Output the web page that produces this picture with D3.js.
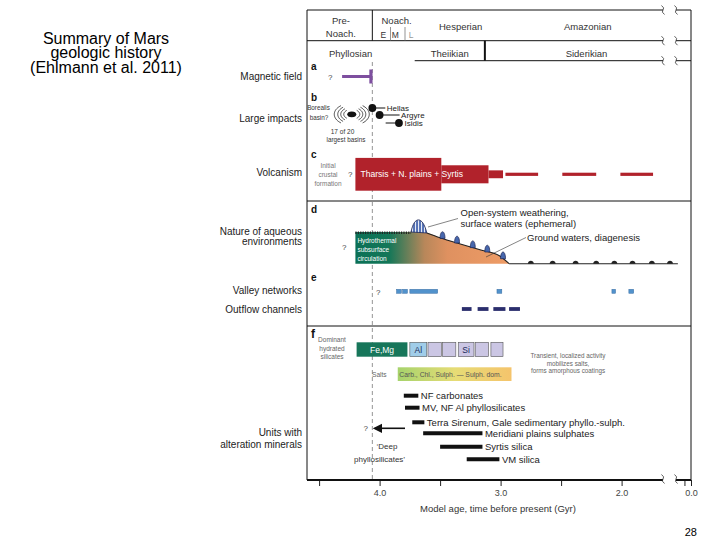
<!DOCTYPE html>
<html>
<head>
<meta charset="utf-8">
<script src="https://cdn.jsdelivr.net/npm/d3@7"></script>
<style>
  body { margin: 0; background: #fff; }
  svg { display: block; font-family: "Liberation Sans", Arial, sans-serif; }
</style>
</head>
<body>
<svg id="chart" width="720" height="540"></svg>
<script>
// ---- data (ages in Gyr before present) ----
const axisTicks = [4.5, 4.0, 3.5, 3.0, 2.5, 2.0, 0.5, 0.0];
const axisTickLabels = ['', '4.0', '', '3.0', '', '2.0', '', '0.0'];

const periodNames = ['Pre-|Noach.', 'Noach.', 'Hesperian', 'Amazonian'];
const periodCenters = [4.32, 3.86, 3.33, 2.28];
const noachSubNames = ['E', 'M', 'L'];
const noachSubCenters = [3.97, 3.87, 3.74];
const noachSubBounds = [3.91, 3.79];
const eonNames = ['Phyllosian', 'Theiikian', 'Siderikian'];
const eonCenters = [4.24, 3.42, 2.29];
const eonBounds = [3.71, 3.13];
const boundaryAge = 4.06;

const magneticField = [4.31, 4.06];

const impactNames = ['Hellas', 'Argyre', 'Isidis'];
const impactAges = [4.06, 4.0, 3.84];
const borealisAge = 4.23;

const volcanismSteps = [[4.2, 3.49], [3.49, 3.1], [3.1, 2.98]];
const volcanismLevels = [1.0, 0.55, 0.24];
const volcanismDashes = [[2.96, 2.69], [2.49, 2.21], [2.01, 1.74]];

const aqueousAges = [4.2, 3.74, 3.61, 3.5, 3.34, 3.17, 3.01, 2.93];
const aqueousLevels = [1.0, 1.0, 0.97, 0.82, 0.63, 0.44, 0.25, 0.0];
const weatheringSpan = [3.74, 3.61];
const weatheringPeak = 1.42;
const surfaceHumps = [3.48, 3.36, 3.23, 3.11, 2.98];
const groundHumps = [2.75, 2.57, 2.38, 2.21, 2.06, 1.91, 1.75, 1.6];
const groundEnd = 1.0;

const valleyNetworks = [[3.86, 3.82], [3.81, 3.77], [3.75, 3.52], [3.03, 2.99], [2.08, 2.05], [1.94, 1.9]];
const outflowChannels = [[3.32, 3.24], [3.19, 3.1], [3.06, 2.96], [2.93, 2.84]];

const silicateNames = ['Fe,Mg', 'Al', '', '', 'Si', '', ''];
const silicateSpans = [[4.19, 3.77], [3.75, 3.61], [3.6, 3.49], [3.48, 3.37], [3.35, 3.22], [3.21, 3.1], [3.08, 2.98]];
const saltsSpan = [3.85, 2.91];

const unitNames = ['NF carbonates', 'MV, NF Al phyllosilicates',
  'Terra Sirenum, Gale sedimentary phyllo.-sulph.', 'Meridiani plains sulphates',
  'Syrtis silica', 'VM silica'];
const unitSpans = [[3.8, 3.68], [3.79, 3.67], [3.73, 3.63], [3.64, 3.15], [3.5, 3.15], [3.28, 3.01]];
const deepPhyllo = [3.79, 4.04];

// ---- drawing ----
const svg = d3.select('#chart');
const yTop = 10, yBottom = 480;

const x = d3.scaleLinear().domain([4.6, 1.6, 0]).range([307, 670, 691]);
const xL = x(4.6), xR = x(0);
const brk1 = 663, brk2 = 676;

const txt = (s, px, py, size, opts = {}) => svg.append('text')
  .attr('x', px).attr('y', py)
  .attr('font-size', size)
  .attr('fill', opts.fill || '#222')
  .attr('font-weight', opts.weight || 'normal')
  .attr('text-anchor', opts.anchor || 'start')
  .text(s);

// title + page number
['Summary of Mars', 'geologic history', '(Ehlmann et al. 2011)'].forEach((s, i) =>
  txt(s, 106, 43.5 + i * 14.5, 16, { anchor: 'middle', fill: '#000' }));
txt('28', 697, 536, 11, { anchor: 'end', fill: '#000' });

// frame
const line = (x1, y1, x2, y2, w = 1, c = '#111') => svg.append('line')
  .attr('x1', x1).attr('y1', y1).attr('x2', x2).attr('y2', y2)
  .attr('stroke', c).attr('stroke-width', w);

const breakMark = (yy) => {
  [brk1, brk2].forEach(bx => svg.append('path')
    .attr('d', `M${bx - 1.5},${yy - 4.5} Q${bx + 2},${yy - 2} ${bx},${yy} Q${bx - 2},${yy + 2} ${bx + 1.5},${yy + 4.5}`)
    .attr('fill', 'none').attr('stroke', '#333').attr('stroke-width', 0.8));
};

[yTop, 40.7].forEach(yy => {
  line(xL, yy, brk1, yy);
  line(brk2, yy, xR, yy);
  breakMark(yy);
});
line(x(eonBounds[0]), 60.7, brk1, 60.7);
line(brk2, 60.7, xR, 60.7);
breakMark(60.7);
line(xL, yTop, xL, yBottom);
line(xR, yTop, xR, yBottom);
line(xL, 201, xR, 201);
line(xL, 326, xR, 326);

// header
line(x(boundaryAge), yTop, x(boundaryAge), 40.7);
noachSubBounds.forEach(a => line(x(a), 27, x(a), 40.7, 0.7, '#666'));
line(x(eonBounds[1]), 40.7, x(eonBounds[1]), 60.7, 2);
periodNames.forEach((n, i) => {
  const parts = n.split('|');
  if (parts.length === 2) {
    txt(parts[0], x(periodCenters[i]), 23.5, 9.5, { anchor: 'middle', fill: '#333' });
    txt(parts[1], x(periodCenters[i]), 37, 9.5, { anchor: 'middle', fill: '#333' });
  } else {
    txt(n, x(periodCenters[i]), i === 1 ? 24 : 30, 9.5, { anchor: 'middle', fill: '#333' });
  }
});
noachSubNames.forEach((n, i) => txt(n, x(noachSubCenters[i]), 37.5, 8.5,
  { anchor: 'middle', fill: i === 2 ? '#999' : '#333' }));
eonNames.forEach((n, i) => txt(n, x(eonCenters[i]), 57, 9.5, { anchor: 'middle', fill: '#333' }));

// dashed boundary line
line(x(boundaryAge), 62, x(boundaryAge), yBottom, 0.8, '#777').attr('stroke-dasharray', '4,3');

// row labels
const rowLabels = [['Magnetic field', 80], ['Large impacts', 121.5], ['Volcanism', 176],
  ['Nature of aqueous', 235], ['environments', 245], ['Valley networks', 294],
  ['Outflow channels', 312.5], ['Units with', 435.5], ['alteration minerals', 448]];
rowLabels.forEach(([s, yy]) => txt(s, 302, yy, 10, { anchor: 'end' }));

// panel letters
[['a', 70], ['b', 101], ['c', 158], ['d', 213], ['e', 281], ['f', 338]].forEach(([s, yy]) =>
  txt(s, 311, yy, s === 'f' ? 12 : 10, { weight: 'bold', fill: '#111' }));

// a: magnetic field
const purple = '#7e4f9f';
line(x(magneticField[0]), 76.5, x(magneticField[1]) - 1, 76.5, 3, purple);
svg.append('rect').attr('x', x(magneticField[1]) - 3).attr('y', 69.5)
  .attr('width', 3.2).attr('height', 14).attr('fill', purple);
txt('?', 328, 79.5, 8, { fill: '#444' });

// b: large impacts
const bx = x(borealisAge), by = 114.3;
svg.append('ellipse').attr('cx', bx).attr('cy', by).attr('rx', 4.5).attr('ry', 2.9).attr('fill', '#111');
const ellArc = (rx, ry, a0, a1) => {
  const pts = d3.range(a0, a1 + 0.01, (a1 - a0) / 20)
    .map(t => [bx + rx * Math.cos(t), by + ry * Math.sin(t)]);
  return d3.line()(pts);
};
[[8, 5], [11, 7], [14, 9], [17.5, 11]].forEach(([rx, ry]) => {
  svg.append('path').attr('d', ellArc(rx, ry, -0.9, 0.9)).attr('fill', 'none').attr('stroke', '#222').attr('stroke-width', 0.8);
  svg.append('path').attr('d', ellArc(rx, ry, Math.PI - 0.9, Math.PI + 0.9)).attr('fill', 'none').attr('stroke', '#222').attr('stroke-width', 0.8);
});
txt('Borealis', 318.5, 110, 6.3, { anchor: 'middle', fill: '#333' });
txt('basin?', 319, 119.5, 6.3, { anchor: 'middle', fill: '#333' });
txt('17 of 20', 342.5, 133.5, 6.5, { anchor: 'middle', fill: '#333' });
txt('largest basins', 346, 142, 6.3, { anchor: 'middle', fill: '#333' });

const impactRows = [108, 115, 123];
impactAges.forEach((a, i) => {
  const cx = x(a), cy = impactRows[i];
  if (i === 2) {
    line(x(3.95), cy, cx, cy, 1);
    txt(impactNames[i], cx + 5.5, cy + 3, 8, { fill: '#222' });
  } else {
    const end = i === 0 ? cx + 13 : cx + 20;
    line(cx, cy, end, cy, 1);
    txt(impactNames[i], end + 1.5, cy + 2.8, 8, { fill: '#222' });
  }
  svg.append('circle').attr('cx', cx).attr('cy', cy).attr('r', 3.9).attr('fill', '#111');
});

// c: volcanism
const red = '#b1222b';
const vy = 174.3;
const vHalf = d3.scaleLinear().domain([0, 1]).range([0, 16.4]);
volcanismSteps.forEach(([a0, a1], i) => {
  svg.append('rect').attr('x', x(a0)).attr('y', vy - vHalf(volcanismLevels[i]))
    .attr('width', x(a1) - x(a0)).attr('height', 2 * vHalf(volcanismLevels[i])).attr('fill', red);
});
volcanismDashes.forEach(([a0, a1]) => {
  svg.append('rect').attr('x', x(a0)).attr('y', vy - 1.6)
    .attr('width', x(a1) - x(a0)).attr('height', 3.2).attr('fill', red);
});
txt('Tharsis + N. plains + Syrtis', x(volcanismSteps[0][0]) + 5, 177, 8.6, { fill: '#fff' });
[['Initial', 168], ['crustal', 177], ['formation', 185.5]].forEach(([s, yy]) =>
  txt(s, 328, yy, 6.5, { anchor: 'middle', fill: '#777' }));
txt('?', 348, 177, 8, { fill: '#444' });

// d: aqueous environments
const defs = svg.append('defs');
const grad = defs.append('linearGradient').attr('id', 'aqGrad')
  .attr('gradientUnits', 'userSpaceOnUse')
  .attr('x1', x(4.2)).attr('x2', x(2.93)).attr('y1', 0).attr('y2', 0);
[[0, '#0b7056'], [0.22, '#147758'], [0.45, '#b8875a'], [0.6, '#df9160'], [1, '#ee9c66']]
  .forEach(([o, c]) => grad.append('stop').attr('offset', o).attr('stop-color', c));

const aqBase = 263.7;
const yAq = d3.scaleLinear().domain([0, 1]).range([aqBase, 232]);
const aqPts = aqueousAges.map((a, i) => [a, aqueousLevels[i]]);
svg.append('path').datum(aqPts)
  .attr('d', d3.area().x(d => x(d[0])).y0(aqBase).y1(d => yAq(d[1])).curve(d3.curveMonotoneX))
  .attr('fill', 'url(#aqGrad)');
svg.append('path').datum(aqPts.slice(2))
  .attr('d', d3.line().x(d => x(d[0])).y(d => yAq(d[1])).curve(d3.curveMonotoneX))
  .attr('fill', 'none').attr('stroke', '#222').attr('stroke-width', 1.1);
line(x(aqueousAges[aqueousAges.length - 1]), aqBase, x(groundEnd), aqBase, 1.1, '#222');
// hatched top of the hydrothermal block
line(x(aqueousAges[0]), yAq(1) + 0.8, x(aqueousAges[1]), yAq(1) + 0.8, 2.4, '#222')
  .attr('stroke-dasharray', '1.2,1.2');

const levelAt = d3.scaleLinear().domain(aqueousAges).range(aqueousLevels).clamp(true);
const hump = (cx, base, w, h) =>
  `M${cx - w},${base} C${cx - w},${base - h} ${cx + w},${base - h} ${cx + w},${base} Z`;
surfaceHumps.forEach(a => {
  const base = yAq(levelAt(a));
  svg.append('path').attr('d', hump(x(a), base, 2.5, 9))
    .attr('fill', '#4767ad').attr('stroke', '#1b2250').attr('stroke-width', 0.7);
});
groundHumps.forEach(a => {
  svg.append('path').attr('d', hump(x(a), aqBase, 3, 4)).attr('fill', '#222');
});
// open-system weathering peak with stripes
const w0 = x(weatheringSpan[0]), w1 = x(weatheringSpan[1]);
const peakPath = `M${w0},${yAq(1)} C${w0 + 3},${yAq(weatheringPeak) - 3} ${w1 - 4},${yAq(weatheringPeak) - 3} ${w1},${yAq(levelAt(weatheringSpan[1]))} Z`;
defs.append('clipPath').attr('id', 'peakClip').append('path').attr('d', peakPath);
svg.append('path').attr('d', peakPath).attr('fill', '#5471b5');
const stripes = svg.append('g').attr('clip-path', 'url(#peakClip)');
d3.range(w0 + 1.5, w1, 3).forEach(sx => stripes.append('line')
  .attr('x1', sx).attr('x2', sx).attr('y1', 210).attr('y2', 240)
  .attr('stroke', '#fff').attr('stroke-width', 0.9));
svg.append('path').attr('d', peakPath).attr('fill', 'none').attr('stroke', '#1b2250').attr('stroke-width', 0.8);

[['Hydrothermal', 242.5], ['subsurface', 252], ['circulation', 261]].forEach(([s, yy]) =>
  txt(s, x(aqueousAges[0]) + 2, yy, 6.5, { fill: '#fff' }));
txt('?', 342, 250, 8, { fill: '#444' });
line(428, 227, 458, 218.5, 0.6, '#333');
txt('Open-system weathering,', 460.5, 216, 9.5, { fill: '#222' });
txt('surface waters (ephemeral)', 460.5, 227, 9.5, { fill: '#222' });
line(486, 257, 526, 237.5, 0.6, '#333');
txt('Ground waters, diagenesis', 527, 241, 9.5, { fill: '#222' });

// e: valley networks & outflow channels
const spanRect = (spans, cy, h, fill, stroke) => spans.forEach(([a0, a1]) =>
  svg.append('rect').attr('x', x(a0)).attr('y', cy - h / 2)
    .attr('width', x(a1) - x(a0)).attr('height', h)
    .attr('fill', fill).attr('stroke', stroke || 'none').attr('stroke-width', 0.5));
spanRect(valleyNetworks, 291.3, 4, '#5192cc', '#3a6ea3');
spanRect(outflowChannels, 309, 3.8, '#2b2e6d');
txt('?', 376, 294.5, 8, { fill: '#444' });

// f: hydrated silicates, salts, units
[['Dominant', 342], ['hydrated', 350.5], ['silicates', 359]].forEach(([s, yy]) =>
  txt(s, 332, yy, 6.5, { anchor: 'middle', fill: '#666' }));
silicateSpans.forEach(([a0, a1], i) => {
  const fill = i === 0 ? '#17765a' : i === 1 ? '#a0cde9' : '#cbc6e4';
  svg.append('rect').attr('x', x(a0)).attr('y', 342.3)
    .attr('width', x(a1) - x(a0)).attr('height', 14.4)
    .attr('fill', fill).attr('stroke', i === 0 ? 'none' : '#555').attr('stroke-width', 0.6);
  if (silicateNames[i]) {
    txt(silicateNames[i], (x(a0) + x(a1)) / 2, 352.8, 8.5,
      { anchor: 'middle', fill: i === 0 ? '#fff' : '#1c2a5a' });
  }
});
[['Transient, localized activity', 358], ['mobilizes salts,', 365.5], ['forms amorphous coatings', 373]]
  .forEach(([s, yy]) => txt(s, 568, yy, 6.3, { anchor: 'middle', fill: '#666' }));

const saltGrad = defs.append('linearGradient').attr('id', 'saltGrad');
[[0, '#a6d36c'], [0.5, '#e6dc76'], [1, '#f5c46c']]
  .forEach(([o, c]) => saltGrad.append('stop').attr('offset', o).attr('stop-color', c));
svg.append('rect').attr('x', x(saltsSpan[0])).attr('y', 367.3)
  .attr('width', x(saltsSpan[1]) - x(saltsSpan[0])).attr('height', 13.7)
  .attr('fill', 'url(#saltGrad)');
txt('Salts', 372, 376.8, 6.6, { fill: '#666' });
txt('Carb., Chl., Sulph. \u2014 Sulph. dom.', x(saltsSpan[0]) + 1.5, 376.8, 6.8, { fill: '#555' });

const unitRows = [395.7, 407.7, 422.3, 433.3, 446.7, 459.3];
unitSpans.forEach(([a0, a1], i) => {
  line(x(a0), unitRows[i], x(a1), unitRows[i], 4, '#111');
  txt(unitNames[i], x(a1) + 2.5, unitRows[i] + 3.4, 9.5, { fill: '#222' });
});
defs.append('marker').attr('id', 'arrow').attr('viewBox', '0 0 10 10')
  .attr('refX', 8).attr('refY', 5).attr('markerWidth', 6).attr('markerHeight', 6)
  .attr('orient', 'auto-start-reverse')
  .append('path').attr('d', 'M0,0 L10,5 L0,10 Z').attr('fill', '#111');
line(x(deepPhyllo[0]), 428.3, x(deepPhyllo[1]), 428.3, 1.6, '#111').attr('marker-end', 'url(#arrow)');
txt('?', 363.5, 431, 8, { fill: '#444' });
txt('\u2018Deep', 376.5, 448.5, 8, { fill: '#333' });
txt('phyllosilicates\u2019', 354, 461.5, 8, { fill: '#333' });

// axis
const axisG = svg.append('g').attr('transform', `translate(0,${yBottom})`)
  .call(d3.axisBottom(x).tickValues(axisTicks)
    .tickFormat((d, i) => axisTickLabels[i]).tickSize(6).tickPadding(4));
axisG.select('.domain').remove();
axisG.selectAll('.tick line').attr('stroke', '#222').attr('stroke-width', 1);
axisG.selectAll('.tick text').attr('font-size', 9).attr('fill', '#444')
  .attr('font-family', '"Liberation Sans", Arial, sans-serif');
line(xL, yBottom, brk1, yBottom, 2, '#111');
line(brk2, yBottom, xR, yBottom, 2, '#111');
breakMark(yBottom - 1);
txt('Model age, time before present (Gyr)', 498, 512, 9.5, { anchor: 'middle', fill: '#333' });
</script>
</body>
</html>
